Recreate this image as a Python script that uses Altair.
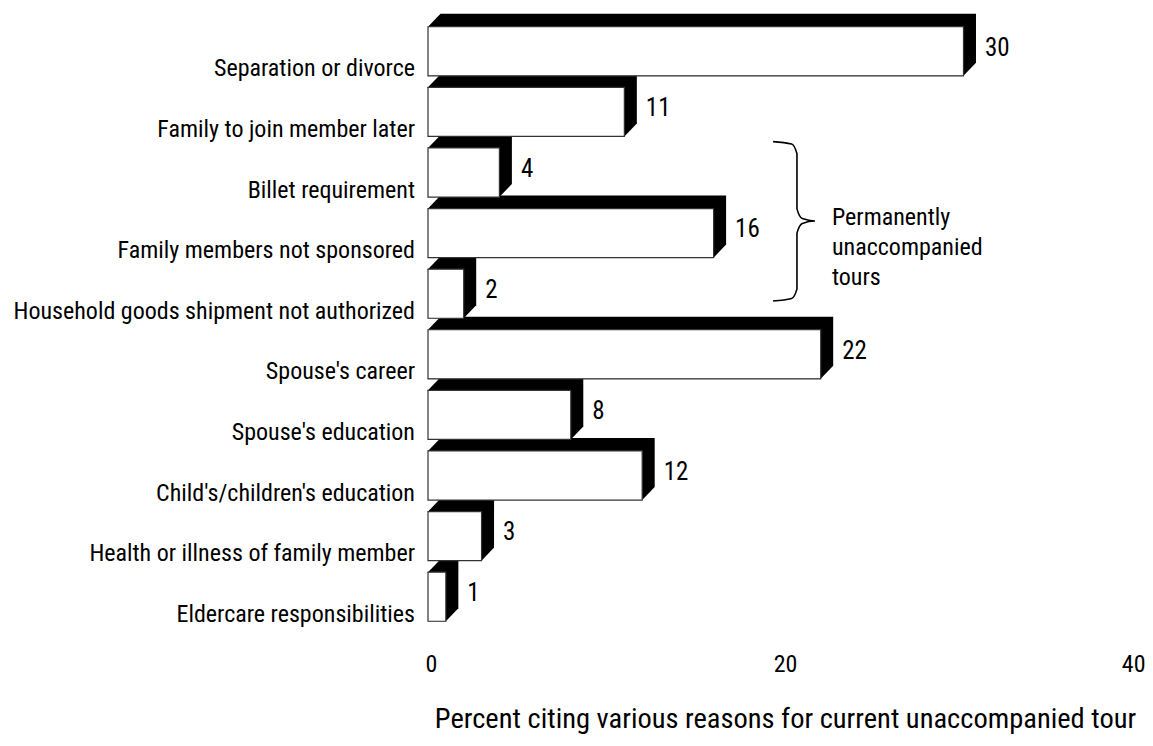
import altair as alt
import pandas as pd

categories = [
    "Separation or divorce",
    "Family to join member later",
    "Billet requirement",
    "Family members not sponsored",
    "Household goods shipment not authorized",
    "Spouse's career",
    "Spouse's education",
    "Child's/children's education",
    "Health or illness of family member",
    "Eldercare responsibilities",
]
values = [30, 11, 4, 16, 2, 22, 8, 12, 3, 1]
x_ticks = [0, 20, 40]
axis_title = "Percent citing various reasons for current unaccompanied tour"
bracket_rows = [2, 4]  # Billet requirement .. Household goods
bracket_text = ["Permanently", "unaccompanied", "tours"]

FONT = "Roboto Condensed, DejaVu Sans Condensed, Liberation Sans, sans-serif"
FS = 24
H = 0.81   # face height in row units
DY = 0.215  # depth (vertical) in row units
DX = 0.70  # depth (horizontal) in x units

rows = []
poly = []
for i, (c, v) in enumerate(zip(categories, values)):
    ctr = i + 0.5
    top, bot = ctr - H / 2, ctr + H / 2
    rows.append(dict(cat=c, v=v, ctr=ctr, top=top, bot=bot,
                     vx=v + DX, vy=ctr + 0.07, ly=bot + 0.01))
    for px, py, py2 in [(0, top, bot), (DX, top - DY, bot), (v, top - DY, bot), (v + DX, top - DY, bot - DY)]:
        poly.append(dict(cat=c, px=px, py=py, py2=py2))
df = pd.DataFrame(rows)
dp = pd.DataFrame(poly)

xs = alt.Scale(domain=[0, 40], nice=False)
ys = alt.Scale(domain=[0, 10], reverse=True, nice=False, zero=False)

extrude = alt.Chart(dp).mark_area(color="black", interpolate="linear").encode(
    x=alt.X("px:Q", scale=xs, axis=alt.Axis(values=x_ticks, title=axis_title, grid=False, domain=False,
                                            ticks=False, labelFont=FONT, labelFontSize=FS, labelColor="black",
                                            labelPadding=25, labelFlush=True, labelFlushOffset=3,
                                            titleFont=FONT, titleFontSize=28.5,
                                            titleFontWeight="normal", titleColor="black", titlePadding=28)),
    y=alt.Y("py:Q", scale=ys, axis=None),
    y2="py2:Q",
    detail="cat:N",
)

face = alt.Chart(df).mark_rect(fill="white", stroke="#333", strokeWidth=1.2).encode(
    x=alt.X("zero:Q", scale=xs),
    x2="v:Q",
    y=alt.Y("top:Q", scale=ys),
    y2="bot:Q",
).transform_calculate(zero="0")

vlabels = alt.Chart(df).mark_text(align="left", baseline="alphabetic", dx=9, font=FONT, fontSize=25,
                                  color="black").encode(
    x=alt.X("vx:Q", scale=xs), y=alt.Y("vy:Q", scale=ys), text="v:Q")

clabels = alt.Chart(df).mark_text(align="right", baseline="alphabetic", dx=-13, font=FONT, fontSize=FS,
                                  color="black").encode(
    x=alt.X("zero:Q", scale=xs), y=alt.Y("ly:Q", scale=ys), text="cat:N").transform_calculate(zero="0")

# bracket "}" spanning the permanently-unaccompanied rows
y_a = bracket_rows[0] - 0.01
y_b = bracket_rows[1] + 0.62
y_m = 3.30
bx0, bx1, bx2 = 19.33, 20.67, 21.68
ry = 0.2
bpts = [
    (bx0, y_a, 0), (bx1 - 0.3, y_a + 0.04, 1), (bx1, y_a + ry, 2), (bx1, y_m - ry, 3),
    (bx1 + 0.3, y_m - 0.04, 4), (bx2, y_m, 5), (bx1 + 0.3, y_m + 0.04, 6), (bx1, y_m + ry, 7),
    (bx1, y_b - ry, 8), (bx1 - 0.3, y_b - 0.04, 9), (bx0, y_b, 10),
]
db = pd.DataFrame(bpts, columns=["bx", "by", "o"])
bracket = alt.Chart(db).mark_line(color="black", strokeWidth=1.6, interpolate="monotone").encode(
    x=alt.X("bx:Q", scale=xs), y=alt.Y("by:Q", scale=ys), order="o:Q")

dt = pd.DataFrame([dict(tx=22.63, ty=3.25, t=bracket_text)])
btext = alt.Chart(dt).mark_text(align="left", baseline="middle", font=FONT, fontSize=FS, lineHeight=30,
                                color="black").encode(
    x=alt.X("tx:Q", scale=xs), y=alt.Y("ty:Q", scale=ys), text="t")

chart = alt.layer(extrude, face, vlabels, clabels, bracket, btext).properties(
    width=714, height=606,
    autosize=alt.AutoSizeParams(type="none"),
    padding={"left": 420, "top": 13, "right": 3, "bottom": 111},
    background="white",
).configure_view(strokeWidth=0)

chart.save("out.html", embed_options={"renderer": "svg", "actions": False})
